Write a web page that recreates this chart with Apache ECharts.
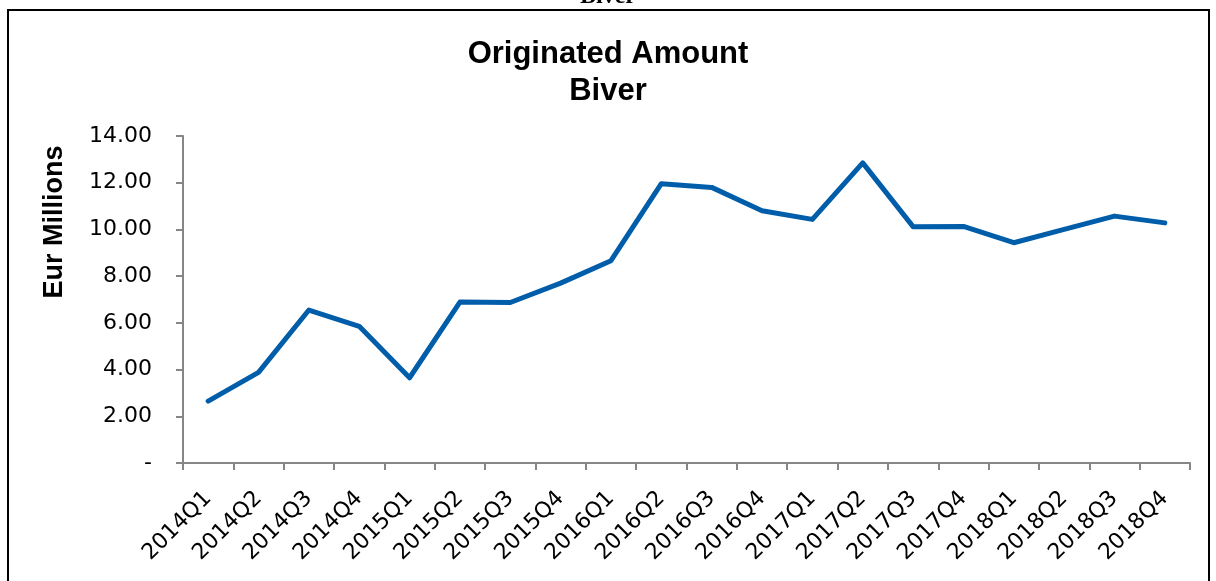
<!DOCTYPE html>
<html>
<head>
<meta charset="utf-8">
<style>
  html, body { margin: 0; padding: 0; background: #fff; }
  #chart { width: 1216px; height: 581px; }
</style>
<script src="https://cdn.jsdelivr.net/npm/echarts@6/dist/echarts.min.js"></script>
</head>
<body>
<div id="chart"></div>
<script>
// quarters on the x axis
const quarters = [
  '2014Q1', '2014Q2', '2014Q3', '2014Q4',
  '2015Q1', '2015Q2', '2015Q3', '2015Q4',
  '2016Q1', '2016Q2', '2016Q3', '2016Q4',
  '2017Q1', '2017Q2', '2017Q3', '2017Q4',
  '2018Q1', '2018Q2', '2018Q3', '2018Q4'
];

// originated amount, EUR millions
const originated = [
  2.65, 3.88, 6.55, 5.85,
  3.65, 6.89, 6.87, 7.70,
  8.66, 11.96, 11.80, 10.80,
  10.43, 12.85, 10.12, 10.13,
  9.43, 10.00, 10.57, 10.28
];

const chartTitle = 'Originated Amount\nBiver';
const yName = 'Eur Millions';

const chart = echarts.init(document.getElementById('chart'));

const axisGray = '#868686';
const font = 'Liberation Sans, Arial, sans-serif';
const tickFont = 'DejaVu Sans, Liberation Sans, sans-serif';

const option = {
  animation: false,
  backgroundColor: '#fff',
  textStyle: { fontFamily: font },
  title: {
    text: chartTitle,
    left: 'center',
    top: 31,
    textStyle: {
      fontFamily: font,
      fontSize: 31,
      fontWeight: 'bold',
      color: '#000',
      lineHeight: 37
    }
  },
  grid: {
    left: 183,
    right: 26,
    top: 136,
    bottom: 118,
    containLabel: false
  },
  xAxis: {
    type: 'category',
    data: quarters,
    boundaryGap: true,
    axisLine: { lineStyle: { color: axisGray, width: 2 } },
    axisTick: { show: true, length: 7, alignWithLabel: false, lineStyle: { color: axisGray, width: 2 } },
    axisLabel: {
      rotate: 45,
      interval: 0,
      margin: 32,
      fontSize: 22,
      color: '#000',
      fontFamily: tickFont
    },
    splitLine: { show: false }
  },
  yAxis: {
    type: 'value',
    min: 0,
    max: 14,
    interval: 2,
    axisLine: { show: true, lineStyle: { color: axisGray, width: 2 } },
    axisTick: { show: true, length: 7, lineStyle: { color: axisGray, width: 2 } },
    axisLabel: {
      margin: 31,
      fontSize: 22,
      color: '#000',
      fontFamily: tickFont,
      formatter: v => (v === 0 ? '-' : v.toFixed(2))
    },
    splitLine: { show: false }
  },
  series: [
    {
      name: 'Originated Amount',
      type: 'line',
      data: originated,
      symbol: 'none',
      smooth: false,
      lineStyle: { color: '#005DAA', width: 5, cap: 'round', join: 'round' }
    }
  ],
  graphic: [
    {
      type: 'rect',
      shape: { x: 8, y: 10, width: 1201, height: 600 },
      style: { fill: 'none', stroke: '#000', lineWidth: 2 },
      silent: true
    },
    {
      // y axis title, sits above the plot's middle like in the original
      type: 'text',
      x: 55,
      y: 222,
      rotation: Math.PI / 2,
      style: {
        text: yName,
        textAlign: 'center',
        textVerticalAlign: 'middle',
        font: 'bold 27px "Liberation Sans", Arial, sans-serif',
        fill: '#000'
      },
      silent: true
    },
    {
      // heading of the page above, cut off by the crop
      type: 'text',
      left: 'center',
      top: -15,
      style: {
        text: 'Biver',
        font: 'bold 24px "Liberation Serif", "DejaVu Serif", serif',
        fill: '#000'
      },
      silent: true
    }
  ]
};

chart.setOption(option);
</script>
</body>
</html>
